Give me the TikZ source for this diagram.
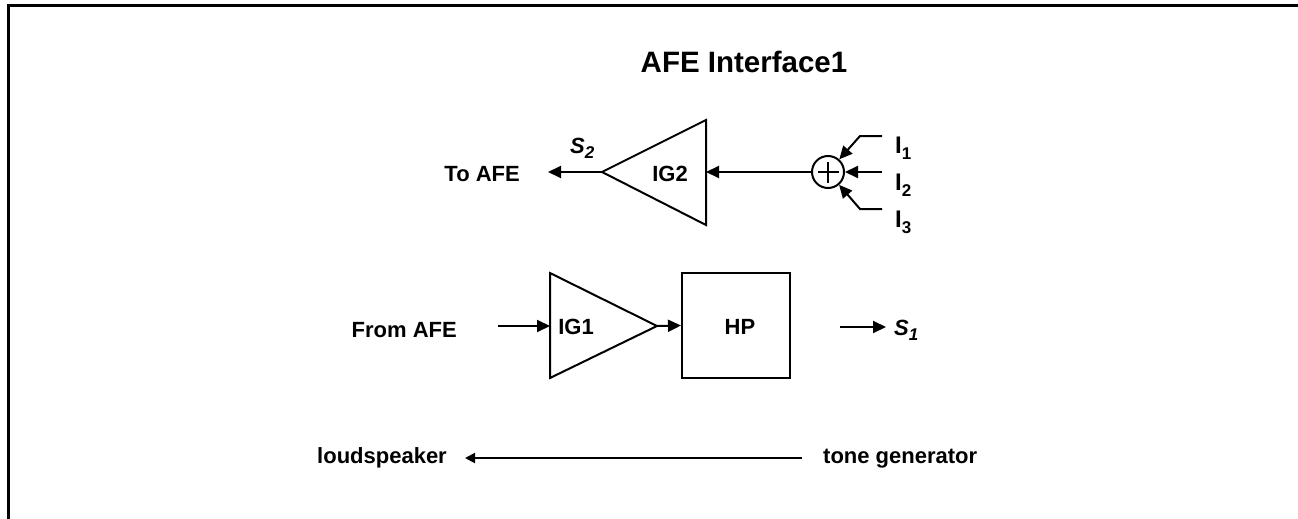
\documentclass[tikz,border=0pt]{standalone}
\usepackage{fontspec}
\setmainfont{Liberation Sans}
\usetikzlibrary{arrows.meta}
\newcommand{\lowsub}[1]{\raisebox{-0.5ex}{\fontsize{17}{17}\selectfont #1}}
\begin{document}
\begin{tikzpicture}[x=1pt,y=-1pt,
  lbl/.style={font=\fontsize{22}{24}\selectfont\bfseries, inner sep=0pt},
  inlbl/.style={font=\fontsize{24}{26}\selectfont\bfseries, inner sep=0pt, anchor=base west},
  wire/.style={line width=2pt},
  arr/.style={wire, -{Triangle[length=13pt,width=12pt]}},
  shp/.style={line width=2pt, line join=miter}]
\useasboundingbox (0,0) rectangle (1298,519);
% frame
\draw[line width=3pt] (8,519) -- (8,6) -- (1298,6);
% title
\node[font=\fontsize{29.5}{31}\selectfont\bfseries, inner sep=0pt, anchor=base] (title) at (744,73) {AFE Interface1};

% upper chain
\coordinate (ig2apex) at (602,172);
\coordinate (ig2top) at (706,120);
\coordinate (ig2bot) at (706,225);
\coordinate (ig2in) at (706,172);
\draw[shp] (ig2apex) -- (ig2top) -- (ig2bot) -- cycle;
\node[lbl, anchor=base] (ig2) at (670,181) {IG2};
\node[lbl, anchor=base east] (toafe) at (520,181) {To AFE};
\coordinate (toafeend) at (548,172);
\draw[arr] (ig2apex) -- (toafeend);
\node[lbl, anchor=base west] (s2) at (570,153) {\itshape S\lowsub{2}};
\node[draw, circle, line width=2pt, minimum size=32pt, inner sep=0pt] (sum) at (828,172) {};
\draw[line width=2pt] ([xshift=-10.5pt]sum.center) -- ([xshift=10.5pt]sum.center)
  ([yshift=-10.5pt]sum.center) -- ([yshift=10.5pt]sum.center);
\draw[arr] (sum) -- (ig2in);
\coordinate (i1s) at (882,136);
\coordinate (i1k) at (860,136);
\coordinate (i2s) at (882,172);
\coordinate (i3s) at (882,209);
\coordinate (i3k) at (860,209);
\draw[arr] (i1s) -- (i1k) -- (sum);
\draw[arr] (i2s) -- (sum);
\draw[arr] (i3s) -- (i3k) -- (sum);
\node[inlbl] (i1) at (895,153) {I\lowsub{1}};
\node[inlbl] (i2) at (895,190) {I\lowsub{2}};
\node[inlbl] (i3) at (895,227) {I\lowsub{3}};

% lower chain
\coordinate (ig1tl) at (550,273);
\coordinate (ig1bl) at (550,378);
\coordinate (ig1apex) at (657,326);
\coordinate (ig1in) at (550,326);
\draw[shp] (ig1tl) -- (ig1apex) -- (ig1bl) -- cycle;
\node[lbl, anchor=base] (ig1) at (576,334) {IG1};
\node[shp, draw, minimum width=108pt, minimum height=105pt, inner sep=0pt] (hp) at (736,325.5) {};
\node[lbl, anchor=base] (hplbl) at (740,334) {HP};
\node[lbl, anchor=base east] (fromafe) at (457,337) {From AFE};
\coordinate (fromstart) at (498,326);
\draw[arr] (fromstart) -- (ig1in);
\draw[arr] (ig1apex) -- (hp.west);
\coordinate (s1start) at (840,327);
\coordinate (s1end) at (886,327);
\draw[arr] (s1start) -- (s1end);
\node[lbl, anchor=base west] (s1) at (894,335) {\itshape S\lowsub{\itshape 1}};

% bottom row
\node[lbl, anchor=base east] (ls) at (447,463) {loudspeaker};
\node[lbl, anchor=base west] (tg) at (823,463) {tone generator};
\coordinate (tgstart) at (802,458);
\coordinate (lsend) at (465,458);
\draw[wire, -{Triangle[length=10pt,width=10pt]}] (tgstart) -- (lsend);
\end{tikzpicture}
\end{document}
